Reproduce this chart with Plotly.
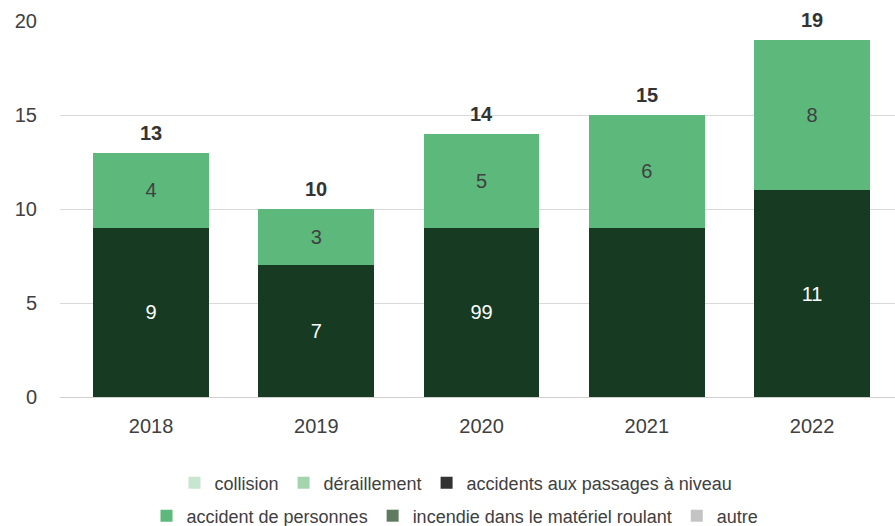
import plotly.graph_objects as go

years = ["2018", "2019", "2020", "2021", "2022"]
collision = [0, 0, 0, 0, 0]
deraillement = [0, 0, 0, 0, 0]
passages_niveau = [9, 7, 9, 9, 11]
passages_niveau_labels = ["9", "7", "99", "", "11"]
accident_personnes = [4, 3, 5, 6, 8]
incendie = [0, 0, 0, 0, 0]
autre = [0, 0, 0, 0, 0]
totals = [a + b + c + d + e + f for a, b, c, d, e, f in
          zip(collision, deraillement, passages_niveau, accident_personnes, incendie, autre)]

FONT = "Liberation Sans, Arial, sans-serif"
TXT = "#404040"
BAR_W = 0.70

fig = go.Figure()

def legend_bar(name, vals, color, legend):
    fig.add_trace(go.Bar(x=years, y=vals, name=name, marker_color=color,
                         marker_line_width=0, width=BAR_W, legend=legend,
                         hoverinfo="skip", textposition="none"))

legend_bar("collision", collision, "#c8e6cf", "legend")
legend_bar("déraillement", deraillement, "#a3d4ae", "legend")

# bars of passages à niveau (dark green in the chart)
fig.add_trace(go.Bar(x=years, y=passages_niveau, name="accidents aux passages à niveau",
                     marker_color="#163b22", marker_line_width=0, width=BAR_W,
                     text=passages_niveau_labels, textposition="inside",
                     insidetextanchor="middle", textangle=0,
                     textfont=dict(color="#ffffff", size=20, family=FONT),
                     showlegend=False, legendgroup="pn", hoverinfo="skip"))
# legend swatch for passages à niveau
fig.add_trace(go.Bar(x=years, y=[None] * len(years), name="accidents aux passages à niveau",
                     marker_color="#333333", marker_line_width=0, width=BAR_W,
                     legend="legend", legendgroup="pn", hoverinfo="skip"))

fig.add_trace(go.Bar(x=years, y=accident_personnes, name="accident de personnes",
                     marker_color="#5cb87b", marker_line_width=0, width=BAR_W,
                     text=[str(v) for v in accident_personnes], textposition="inside",
                     insidetextanchor="middle", textangle=0,
                     textfont=dict(color=TXT, size=20, family=FONT),
                     legend="legend2", hoverinfo="skip"))
legend_bar("incendie dans le matériel roulant", incendie, "#5e7a5f", "legend2")
legend_bar("autre", autre, "#c4c4c4", "legend2")

for i, tot in enumerate(totals):
    fig.add_annotation(x=i, y=tot, xref="x", yref="y", text=f"<b>{tot}</b>",
                       showarrow=False, yanchor="middle", yshift=20,
                       font=dict(color="#333333", size=20, family=FONT))

legend_common = dict(orientation="h", xref="container", yref="container",
                     xanchor="center", yanchor="middle", traceorder="normal",
                     font=dict(size=18, color=TXT, family=FONT),
                     bgcolor="rgba(0,0,0,0)", itemclick=False, itemdoubleclick=False)

fig.update_layout(
    width=895, height=526,
    margin=dict(l=60, r=0, t=21, b=129),
    barmode="stack",
    plot_bgcolor="white", paper_bgcolor="white",
    font=dict(family=FONT, size=20, color=TXT),
    xaxis=dict(type="category", range=[-0.551, 4.502], showgrid=False, showline=False,
               zeroline=False, ticks="", ticklabelstandoff=15,
               tickfont=dict(size=20, color=TXT, family=FONT)),
    yaxis=dict(range=[0, 20], tickvals=[0, 5, 10, 15, 20], showgrid=True,
               gridcolor="#d9d9d9", gridwidth=1, zeroline=True, zerolinecolor="#cfcfcf",
               zerolinewidth=1, showline=False, ticks="", ticklabelstandoff=22,
               tickfont=dict(size=20, color=TXT, family=FONT)),
    legend=dict(x=456 / 895, y=1 - 483 / 526, **legend_common),
    legend2=dict(x=455 / 895, y=1 - 516 / 526, **legend_common),
    showlegend=True,
)

fig.write_html("out.html")
